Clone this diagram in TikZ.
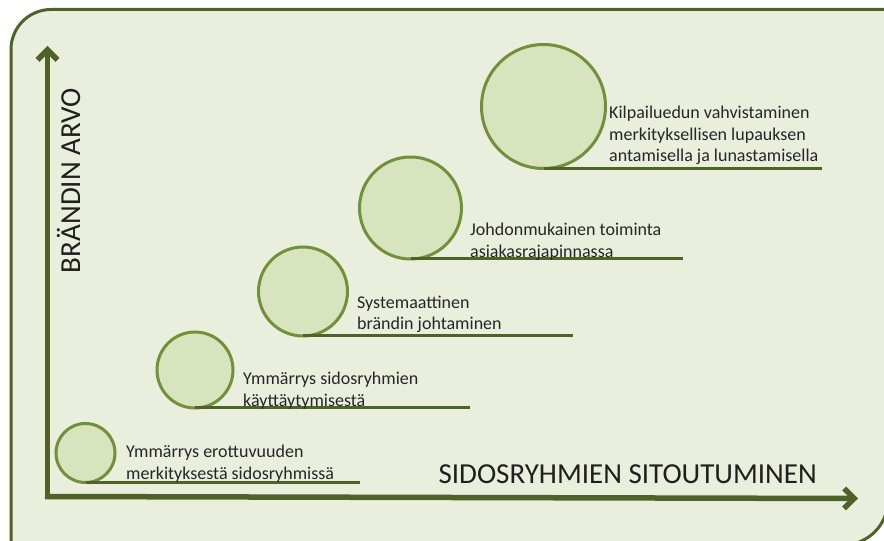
\documentclass[tikz,border=0pt]{standalone}
\usepackage{fontspec}
\setmainfont{Carlito}
\usetikzlibrary{arrows.meta}

\definecolor{frameolive}{HTML}{4F6228}
\definecolor{panelfill}{HTML}{EAEFDD}
\definecolor{discfill}{HTML}{D7E4BD}
\definecolor{discedge}{HTML}{72903A}
\definecolor{inktext}{HTML}{262626}

\begin{document}
\begin{tikzpicture}[x=1pt,y=1pt,
  disc/.style={circle, draw=discedge, fill=discfill, line width=3pt,
    inner sep=0pt, outer sep=0pt},
  stagerule/.style={draw=frameolive, line width=3pt},
  stage/.style={anchor=base west, align=left, inner sep=0pt, text=inktext,
    font=\fontsize{18}{21.5}\selectfont},
  axis/.style={draw=frameolive, line width=5.5pt,
    -{Straight Barb[length=10pt,width=20pt]}},
  axislabel/.style={inner sep=0pt, text=black!88,
    font=\fontsize{29}{34}\selectfont}]

% canvas
\fill[white] (0,0) rectangle (884,541);
\useasboundingbox (0,0) rectangle (884,541);

% panel with two rounded corners (top left, bottom right)
\filldraw[fill=panelfill, draw=frameolive, line width=3pt]
  (11,-4) -- (11,491.5) arc[start angle=180, end angle=90, radius=40]
  -- (888,531.5) -- (888,41) arc[start angle=0, end angle=-90, radius=45]
  -- cycle;

% axes
\coordinate (origin) at (47.5,42);
\coordinate (ytip) at (47.5,495);
\coordinate (xstart) at (45,44.5);
\coordinate (xtip) at (858,42.5);
\draw[axis] (origin) -- (ytip);
\draw[axis] (xstart) -- (xtip);

% axis labels
\node[axislabel, rotate=90, anchor=base east] (ylab) at (80,453) {BRÄNDIN ARVO};
\node[axislabel, anchor=base east] (xlab) at (817,57.5) {SIDOSRYHMIEN SITOUTUMINEN};

% stage 1 (label anchored at the baseline of its last line)
\node[disc, minimum size=59] (d1) at (85.5,88) {};
\coordinate (e1) at (360,58.5);
\draw[stagerule] (d1.south) -- (e1);
\node[stage] (t1) at (126,61.5) {Ymmärrys erottuvuuden\\merkityksestä sidosryhmissä};

% stage 2
\node[disc, minimum size=76] (d2) at (195,171) {};
\coordinate (e2) at (470,133);
\draw[stagerule] (d2.south) -- (e2);
\node[stage] (t2) at (243,134.5) {Ymmärrys sidosryhmien\\käyttäytymisestä};

% stage 3
\node[disc, minimum size=89] (d3) at (303,249.5) {};
\coordinate (e3) at (573,205);
\draw[stagerule] (d3.south) -- (e3);
\node[stage] (t3) at (357,211) {Systemaattinen\\brändin johtaminen};

% stage 4
\node[disc, minimum size=102] (d4) at (410.5,333) {};
\coordinate (e4) at (683,282);
\draw[stagerule] (d4.south) -- (e4);
\node[stage] (t4) at (470,283.5) {Johdonmukainen toiminta\\asiakasrajapinnassa};

% stage 5
\node[disc, minimum size=124] (d5) at (543.5,434.5) {};
\coordinate (e5) at (822,372.5);
\draw[stagerule] (d5.south) -- (e5);
\node[stage] (t5) at (609,379) {Kilpailuedun vahvistaminen\\merkityksellisen lupauksen\\antamisella ja lunastamisella};

\end{tikzpicture}
\end{document}
